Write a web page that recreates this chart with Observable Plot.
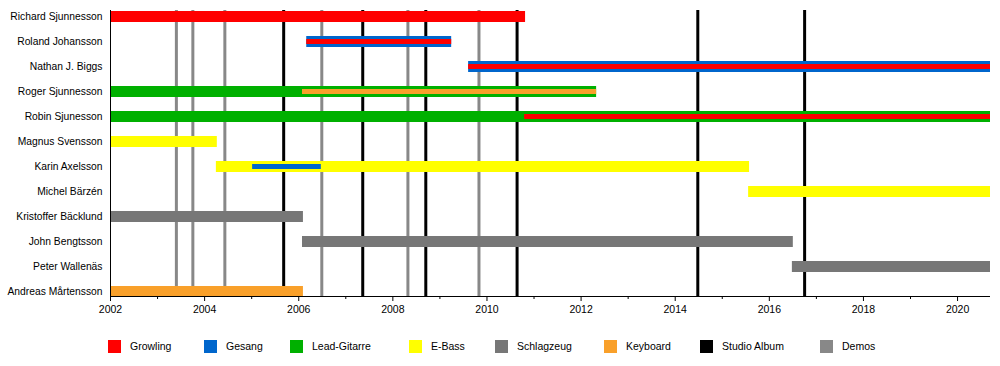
<!DOCTYPE html>
<html>
<head>
<meta charset="utf-8">
<script src="https://cdn.jsdelivr.net/npm/d3@7"></script>
<script src="https://cdn.jsdelivr.net/npm/@observablehq/plot@0.6"></script>
<style>
  html, body { margin: 0; padding: 0; background: #fff; }
  #wrap { position: relative; width: 1000px; height: 366px; font-family: "Liberation Sans", Arial, sans-serif; }
  #legend { position: absolute; left: 0; top: 320px; width: 1000px; height: 46px; }
  .item { position: absolute; top: 20px; height: 13px; font-size: 10.5px; line-height: 13px; color: #000; }
  .sw { position: absolute; left: 0; top: 0; width: 13px; height: 13px; }
  .lb { position: absolute; left: 22px; top: 0; white-space: nowrap; }
</style>
</head>
<body>
<div id="wrap"><div id="chart"></div><div id="legend"></div></div>
<script>
// ---- data ----
const members = ["Richard Sjunnesson","Roland Johansson","Nathan J. Biggs","Roger Sjunnesson","Robin Sjunesson","Magnus Svensson","Karin Axelsson","Michel Bärzén","Kristoffer Bäcklund","John Bengtsson","Peter Wallenäs","Andreas Mårtensson"];
const roles = ["Growling","Gesang","Lead-Gitarre","E-Bass","Schlagzeug","Keyboard"];
const roleColors = ["#ff0000","#0066cc","#00b000","#ffff00","#777777","#f9a02a"];
const endYear = 2020.7;

// main bars
const mainMember = ["Richard Sjunnesson","Roland Johansson","Nathan J. Biggs","Roger Sjunnesson","Robin Sjunesson","Magnus Svensson","Karin Axelsson","Michel Bärzén","Kristoffer Bäcklund","John Bengtsson","Peter Wallenäs","Andreas Mårtensson"];
const mainRole   = ["Growling","Gesang","Gesang","Lead-Gitarre","Lead-Gitarre","E-Bass","E-Bass","E-Bass","Schlagzeug","Schlagzeug","Schlagzeug","Keyboard"];
const mainStart  = [2002, 2006.17, 2009.61, 2002, 2002, 2002, 2004.25, 2015.56, 2002, 2006.08, 2016.49, 2002];
const mainEnd    = [2010.82, 2009.25, endYear, 2012.33, endYear, 2004.27, 2015.58, endYear, 2006.10, 2016.51, endYear, 2006.10];

// secondary (inner) bars
const innerMember = ["Roland Johansson","Nathan J. Biggs","Roger Sjunnesson","Robin Sjunesson","Karin Axelsson"];
const innerRole   = ["Growling","Growling","Keyboard","Growling","Gesang"];
const innerStart  = [2006.17, 2009.61, 2006.08, 2010.80, 2005.02];
const innerEnd    = [2009.25, endYear, 2012.33, endYear, 2006.48];

// events
const studioAlbums = [2005.68, 2007.36, 2008.70, 2010.64, 2014.48, 2016.75];
const demos = [2003.40, 2003.75, 2004.43, 2006.49, 2008.32, 2009.83];

const majorTicks = d3.range(2002, 2021, 2);
const minorTicks = d3.range(2003, 2021, 2);

const legendItems = ["Growling","Gesang","Lead-Gitarre","E-Bass","Schlagzeug","Keyboard","Studio Album","Demos"];
const legendColors = ["#ff0000","#0066cc","#00b000","#ffff00","#777777","#f9a02a","#000000","#888888"];

// ---- tables ----
const mainBars = mainMember.map((m, i) => ({member: m, role: mainRole[i], start: mainStart[i], end: mainEnd[i]}));
const innerBars = innerMember.map((m, i) => ({member: m, role: innerRole[i], start: innerStart[i], end: innerEnd[i]}));

const chart = Plot.plot({
  width: 1000,
  height: 320,
  marginLeft: 110,
  marginRight: 10,
  marginTop: 10,
  marginBottom: 24,
  style: {fontFamily: "'Liberation Sans', Arial, sans-serif", fontSize: "10.3px", color: "#000", background: "#fff"},
  x: {domain: [2002, endYear], range: [110, 990], axis: null},
  y: {type: "point", domain: members, range: [15.5, 291], padding: 0, axis: null, label: null},
  color: {domain: roles, range: roleColors},
  marks: [
    Plot.ruleX(demos, {stroke: "#888888", strokeWidth: 3}),
    Plot.ruleX(studioAlbums, {stroke: "#000000", strokeWidth: 3}),
    Plot.ruleY(mainBars, {y: "member", x1: "start", x2: "end", stroke: "role", strokeWidth: 11}),
    Plot.ruleY(innerBars, {y: "member", x1: "start", x2: "end", stroke: "role", strokeWidth: 5}),
    Plot.ruleX([2002], {stroke: "#000", strokeWidth: 1}),
    Plot.ruleY([members[members.length - 1]], {x1: 2002, x2: endYear, dy: 5, stroke: "#000", strokeWidth: 1}),
    Plot.axisY({tickSize: 0, tickPadding: 8, fontSize: 10.3, label: null}),
    Plot.axisX(majorTicks, {anchor: "bottom", tickSize: 5, tickPadding: 4, tickFormat: d => String(d), fontSize: 10.5, label: null}),
    Plot.axisX(minorTicks, {anchor: "bottom", tickSize: 3, tickFormat: () => "", label: null})
  ]
});
document.getElementById("chart").appendChild(chart);

// ---- legend ----
const legendX = [108, 204, 290, 409, 495, 604, 700, 820];
const legend = document.getElementById("legend");
legendItems.forEach((name, i) => {
  const it = document.createElement("div");
  it.className = "item";
  it.style.left = legendX[i] + "px";
  const sw = document.createElement("div");
  sw.className = "sw";
  sw.style.background = legendColors[i];
  const lb = document.createElement("div");
  lb.className = "lb";
  lb.textContent = name;
  it.appendChild(sw); it.appendChild(lb);
  legend.appendChild(it);
});
</script>
</body>
</html>
